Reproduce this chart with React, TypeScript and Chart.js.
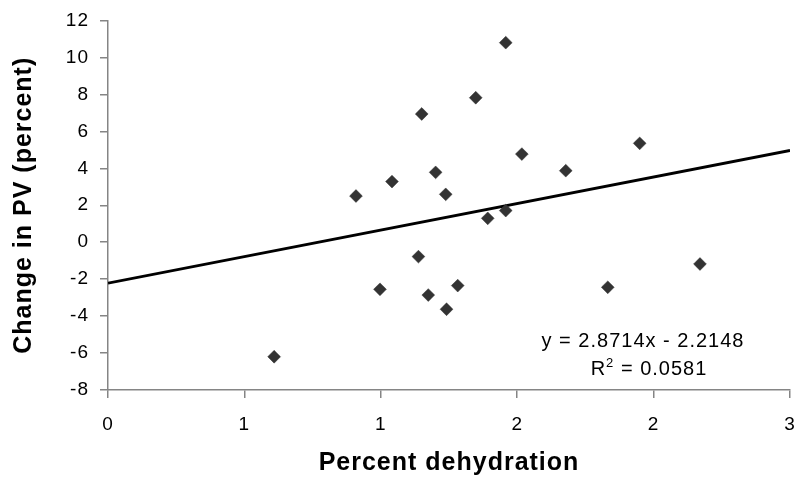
import React, { useEffect, useRef } from "react";
import { Chart, registerables } from "chart.js";

Chart.register(...registerables);

// Percent dehydration (x) and change in PV (y)
const dehydration = [0.909, 1.041, 0.997, 0.609, 1.15, 1.201, 1.238, 1.138, 1.174, 1.282, 1.241, 1.348, 1.392, 1.458, 1.458, 1.517, 1.678, 1.832, 1.949, 2.17];
const pvChange = [2.5, 3.28, -2.55, -6.2, 6.94, 3.78, 2.59, -0.78, -2.86, -2.35, -3.63, 7.82, 1.29, 10.8, 1.71, 4.77, 3.87, -2.44, 5.35, -1.18];

// Linear trendline reported on the chart
const slope = 2.8714;
const intercept = -2.2148;
const rSquared = "0.0581";
const trendXs = [0, 2.5];

// Axis tick labels (Excel rounds the 0.5 steps to whole numbers)
const xTickLabels = ["0", "1", "1", "2", "2", "3"];
const xMin = 0;
const xMax = 2.5;
const xStep = 0.5;
const yMin = -8;
const yMax = 12;
const yStep = 2;

const FONT = '"Liberation Sans", Arial, Helvetica, sans-serif';
const AXIS_GRAY = "#858585";

const spacingPlugin = {
  id: "spacing",
  beforeUpdate(chart: any) {
    chart.ctx.letterSpacing = "1px";
  },
  beforeDraw(chart: any) {
    chart.ctx.letterSpacing = "1px";
  },
};

const equationPlugin = {
  id: "equation",
  afterDraw(chart: any) {
    const { ctx, chartArea } = chart;
    ctx.save();
    ctx.fillStyle = "#000";
    ctx.letterSpacing = "1px";
    ctx.textBaseline = "alphabetic";
    ctx.font = `20px ${FONT}`;
    ctx.textAlign = "center";
    const eq = `y = ${slope}x - ${Math.abs(intercept)}`;
    ctx.fillText(eq, chartArea.right - 147, chartArea.bottom - 43);

    // R² line
    ctx.textAlign = "left";
    const big = `20px ${FONT}`;
    const small = `13px ${FONT}`;
    ctx.font = big;
    const wR = ctx.measureText("R").width;
    const rest = ` = ${rSquared}`;
    const wRest = ctx.measureText(rest).width;
    ctx.font = small;
    const w2 = ctx.measureText("2").width;
    const total = wR + w2 + wRest;
    let x = chartArea.right - 141 - total / 2;
    const y = chartArea.bottom - 15;
    ctx.font = big;
    ctx.fillText("R", x, y);
    x += wR;
    ctx.font = small;
    ctx.fillText("2", x, y - 8);
    x += w2;
    ctx.font = big;
    ctx.fillText(rest, x, y);
    ctx.restore();
  },
};

export default function App() {
  const canvasRef = useRef<HTMLCanvasElement | null>(null);

  useEffect(() => {
    if (!canvasRef.current) return;
    const points = dehydration.map((x, i) => ({ x, y: pvChange[i] }));
    const trend = trendXs.map((x) => ({ x, y: slope * x + intercept }));

    const chart = new Chart(canvasRef.current, {
      type: "scatter",
      data: {
        datasets: [
          {
            label: "Data",
            data: points,
            pointStyle: "rectRot",
            pointRadius: 6.4,
            pointBackgroundColor: "#333333",
            pointBorderColor: "#333333",
            pointBorderWidth: 0.5,
            showLine: false,
            order: 1,
          },
          {
            type: "line",
            label: "Trend",
            data: trend,
            borderColor: "#000000",
            borderWidth: 2.8,
            pointRadius: 0,
            fill: false,
            order: 2,
          } as any,
        ],
      },
      options: {
        animation: false,
        responsive: true,
        maintainAspectRatio: false,
        layout: {
          autoPadding: false,
          padding: { top: 20.5, right: 5, bottom: 0, left: 0 },
        } as any,
        plugins: {
          legend: { display: false },
          tooltip: { enabled: false },
        },
        scales: {
          x: {
            type: "linear",
            min: xMin,
            max: xMax,
            afterFit: (scale: any) => {
              scale.height = 93;
              scale.paddingLeft = 0;
              scale.paddingRight = 0;
            },
            ticks: {
              stepSize: xStep,
              color: "#000",
              padding: 15,
              font: { family: FONT, size: 19 },
              callback: (_v: any, i: number) => xTickLabels[i],
            },
            grid: {
              display: true,
              drawOnChartArea: false,
              drawTicks: true,
              tickLength: 8,
              color: AXIS_GRAY,
              lineWidth: 1.5,
            },
            border: { display: true, color: AXIS_GRAY, width: 1.5 },
            title: {
              display: true,
              text: "Percent dehydration",
              color: "#000",
              font: { family: FONT, size: 25, weight: "bold" },
              padding: { top: 0, bottom: 5 },
            },
          },
          y: {
            type: "linear",
            min: yMin,
            max: yMax,
            afterFit: (scale: any) => {
              scale.width = 108;
              scale.paddingTop = 0;
              scale.paddingBottom = 0;
            },
            ticks: {
              stepSize: yStep,
              color: "#000",
              padding: 11,
              font: { family: FONT, size: 19 },
            },
            grid: {
              display: true,
              drawOnChartArea: false,
              drawTicks: true,
              tickLength: 8,
              color: AXIS_GRAY,
              lineWidth: 1.5,
            },
            border: { display: true, color: AXIS_GRAY, width: 1.5 },
            title: {
              display: true,
              text: "Change in PV (percent)",
              color: "#000",
              font: { family: FONT, size: 25, weight: "bold" },
              padding: { top: 9.5, bottom: 0 },
            },
          },
        },
      },
      plugins: [spacingPlugin, equationPlugin],
    });
    return () => chart.destroy();
  }, []);

  return (
    <div
      style={{
        position: "fixed",
        left: 0,
        top: 0,
        width: 795,
        height: 483,
        background: "#fff",
      }}
    >
      <canvas ref={canvasRef} />
    </div>
  );
}
